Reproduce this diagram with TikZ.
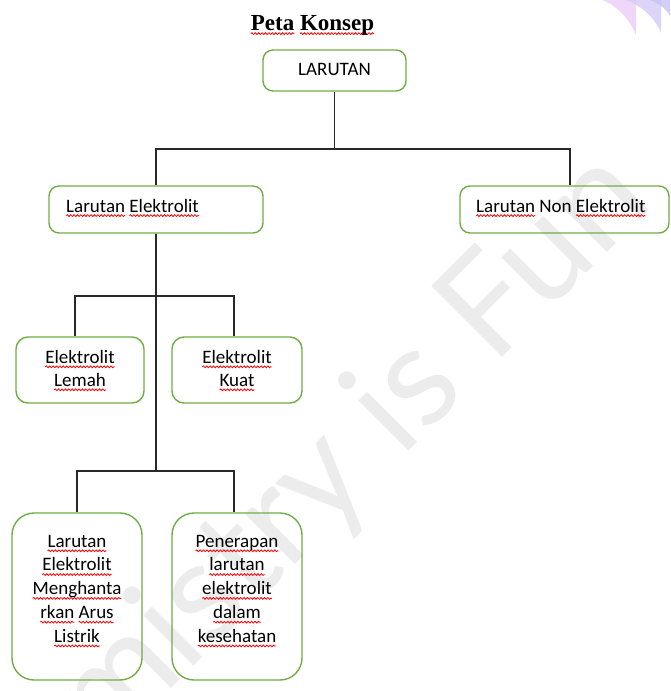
\documentclass[tikz,border=0pt]{standalone}
\usepackage{fontspec}
\setmainfont{Carlito}
\newfontfamily\titlefont{Liberation Serif}
\newfontfamily\wmfont{Lato}
\usetikzlibrary{calc,decorations.pathmorphing}
\definecolor{boxgreen}{RGB}{112,173,71}
\definecolor{connc}{RGB}{40,40,40}
\definecolor{wmgray}{RGB}{236,236,236}
\definecolor{cornA}{RGB}{240,214,249}
\definecolor{cornB}{RGB}{214,206,246}
\definecolor{cornC}{RGB}{196,196,244}
\newsavebox\sqbox
\newlength\sqw
\newcommand\sq[1]{\sbox\sqbox{#1}\setlength\sqw{\wd\sqbox}\tikz[overlay,baseline=0pt,x=1pt,y=1pt]{\draw[red, line width=0.8pt, decorate, decoration={snake, amplitude=0.9pt, segment length=3.4pt}] (0,-3.6) -- (\sqw,-3.6);}\usebox\sqbox}
\tikzset{
  box/.style={draw=boxgreen, line width=1.4pt, rectangle, inner sep=0pt},
  conn/.style={draw=connc, line width=1.3pt},
  boxtext/.style={inner sep=0pt, font=\fontsize{19}{23}\selectfont, text=black},
  boxtextc/.style={boxtext, align=center, anchor=north},
  wm/.style={inner sep=0pt, text=wmgray, font=\wmfont\fontsize{140}{140}\selectfont}
}
\begin{document}
\begin{tikzpicture}[x=1pt,y=-1pt]
\clip (0,0) rectangle (670,691);
\useasboundingbox (0,0) rectangle (670,691);
% corner decoration
\fill[cornA] (602,0) .. controls (618,6) and (630,20) .. (636,35) -- (636,0) -- cycle;
\fill[cornB, opacity=0.85] (626,0) .. controls (642,6) and (655,18) .. (661,33) -- (661,0) -- cycle;
\fill[cornC, opacity=0.8] (650,0) .. controls (660,4) and (667,10) .. (670,16) -- (670,0) -- cycle;
% watermark
\node[wm, rotate=45, anchor=base east] (wmark) at (656,204) {Chemistry is Fun};
% title
\node[anchor=base, inner sep=0pt] (title) at (312.5,30) {\titlefont\bfseries\fontsize{23}{28}\selectfont \sq{Peta} \sq{Konsep}};
% boxes
\node[box, rounded corners=10pt, minimum width=143pt, minimum height=41pt] (larutan) at (334.5,70.5) {};
\node[box, rounded corners=10pt, minimum width=214pt, minimum height=47pt] (elek) at (156,209.5) {};
\node[box, rounded corners=10pt, minimum width=209pt, minimum height=47pt] (non) at (564.5,209.5) {};
\node[box, rounded corners=12pt, minimum width=128pt, minimum height=66pt] (lemah) at (80,370) {};
\node[box, rounded corners=12pt, minimum width=130pt, minimum height=66pt] (kuat) at (237,370) {};
\node[box, rounded corners=22pt, minimum width=130pt, minimum height=167pt] (listrik) at (77,596.5) {};
\node[box, rounded corners=22pt, minimum width=130pt, minimum height=167pt] (pen) at (237,596.5) {};
% texts
\node[boxtext, anchor=base] (t1) at (334.5,75) {LARUTAN};
\node[boxtext, anchor=base west] (t2) at (66,212) {\sq{Larutan} \sq{Elektrolit}};
\node[boxtext, anchor=base west] (t3) at (476,212) {\sq{Larutan} Non \sq{Elektrolit}};
\node[boxtextc] (t4) at (80,346.9) {\strut\sq{Elektrolit}\\\sq{Lemah}};
\node[boxtextc] (t5) at (237,346.9) {\strut\sq{Elektrolit}\\\sq{Kuat}};
\node[boxtextc, font=\fontsize{19}{23.8}\selectfont] (t6) at (77,530.3) {\strut\sq{Larutan}\\\sq{Elektrolit}\\\sq{Menghanta}\\\sq{rkan} \sq{Arus}\\\sq{Listrik}};
\node[boxtextc, font=\fontsize{19}{23.8}\selectfont] (t7) at (237,530.3) {\strut\sq{Penerapan}\\\sq{larutan}\\\sq{elektrolit}\\\sq{dalam}\\\sq{kesehatan}};
% junctions
\coordinate (j1) at (334.5,149);
\coordinate (j2) at (156,296);
\coordinate (j3) at (156,471);
% connectors
\draw[conn] (larutan.south) -- (j1);
\draw[conn] (elek.north) |- (j1) -| ([xshift=5.5pt]non.north);
\draw[conn] (elek.south) -- (j3);
\draw[conn] ([xshift=-5pt]lemah.north) |- (j2) -| ([xshift=-3pt]kuat.north);
\draw[conn] (listrik.north) |- (j3) -| ([xshift=-3pt]pen.north);
\end{tikzpicture}
\end{document}
